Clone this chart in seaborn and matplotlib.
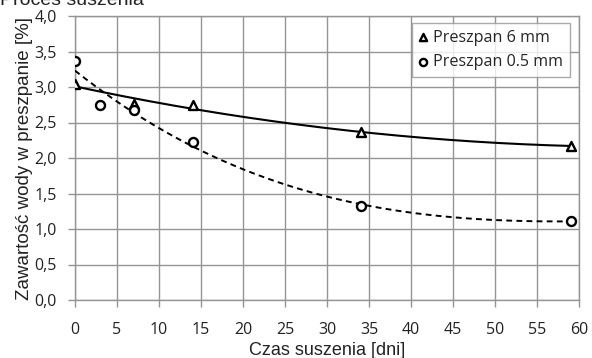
import numpy as np
import pandas as pd
import matplotlib
matplotlib.use("Agg")
import matplotlib.pyplot as plt
import seaborn as sns

# Data
days_6mm = [0, 7, 14, 34, 59]
water_6mm = [3.04, 2.76, 2.75, 2.36, 2.17]
days_05mm = [0, 3, 7, 14, 34, 59]
water_05mm = [3.37, 2.74, 2.67, 2.23, 1.33, 1.11]
label_6mm = "Preszpan 6 mm"
label_05mm = "Preszpan 0.5 mm"
x_ticks = list(range(0, 61, 5))
y_ticks = [0.0, 0.5, 1.0, 1.5, 2.0, 2.5, 3.0, 3.5, 4.0]

sns.set_theme(style="white")
plt.rcParams['font.family'] = ['Open Sans', 'DejaVu Sans']

fig = plt.figure(figsize=(5.92, 3.58), dpi=100)
ax = fig.add_axes([75 / 592, 1 - 300 / 358, 504 / 592, 284 / 358])

# Polynomial trend lines fitted to the data
xs6 = np.linspace(min(days_6mm), max(days_6mm), 200)
trend6 = pd.DataFrame({"x": xs6, "y": np.polyval(np.polyfit(days_6mm, water_6mm, 2), xs6)})
xs05 = np.linspace(min(days_05mm), max(days_05mm), 200)
trend05 = pd.DataFrame({"x": xs05, "y": np.polyval(np.polyfit(days_05mm, water_05mm, 3), xs05)})

sns.lineplot(data=trend6, x="x", y="y", ax=ax, color="black", lw=1.5, zorder=3)
sns.lineplot(data=trend05, x="x", y="y", ax=ax, color="black", lw=1.4,
             linestyle=(0, (3.0, 2.2)), zorder=3)

df6 = pd.DataFrame({"x": days_6mm, "y": water_6mm})
df05 = pd.DataFrame({"x": days_05mm, "y": water_05mm})
sns.scatterplot(data=df6, x="x", y="y", ax=ax, marker="^", s=42,
                facecolor="white", edgecolor="black", linewidth=1.7,
                label=label_6mm, zorder=4)
sns.scatterplot(data=df05, x="x", y="y", ax=ax, marker="o", s=42,
                facecolor="white", edgecolor="black", linewidth=1.7,
                label=label_05mm, zorder=4)

ax.set_xlim(0, 60)
ax.set_ylim(0, 4)
ax.set_xticks(x_ticks)
ax.set_yticks(y_ticks)
ax.set_xticklabels([str(t) for t in x_ticks], fontsize=11.5, color="#222222")
ax.set_yticklabels([f"{t:.1f}".replace(".", ",") for t in y_ticks],
                   fontsize=11.5, color="#222222")
ax.grid(True, color="#959595", lw=1.0)
ax.set_axisbelow(True)
for s in ax.spines.values():
    s.set_color("#959595")
    s.set_linewidth(1.0)
ax.tick_params(axis="both", length=5, width=1.0, color="#959595",
               direction="out", bottom=True, left=True)
ax.tick_params(axis="y", pad=8)
ax.tick_params(axis="x", pad=11)
ax.set_xlabel("Czas suszenia [dni]", fontsize=13, family="Liberation Sans",
              color="#222222", labelpad=3)
ax.set_ylabel("Zawartość wody w preszpanie [%]", fontsize=13.5,
              family="Liberation Sans", color="#222222", labelpad=1)

leg = ax.legend(loc="upper right", bbox_to_anchor=(0.982, 0.975), frameon=True,
                fancybox=False, edgecolor="#959595", fontsize=11.6,
                handletextpad=0.35, borderpad=0.4, handlelength=0.6,
                labelspacing=0.55, borderaxespad=0.0, markerscale=0.8)
leg.get_frame().set_linewidth(1.0)

fig.text(0.0, 1 - 5 / 358, "Proces suszenia", fontsize=14, family="Liberation Sans",
         va="baseline", ha="left", color="#222222")

fig.savefig("out.png", dpi=100)
